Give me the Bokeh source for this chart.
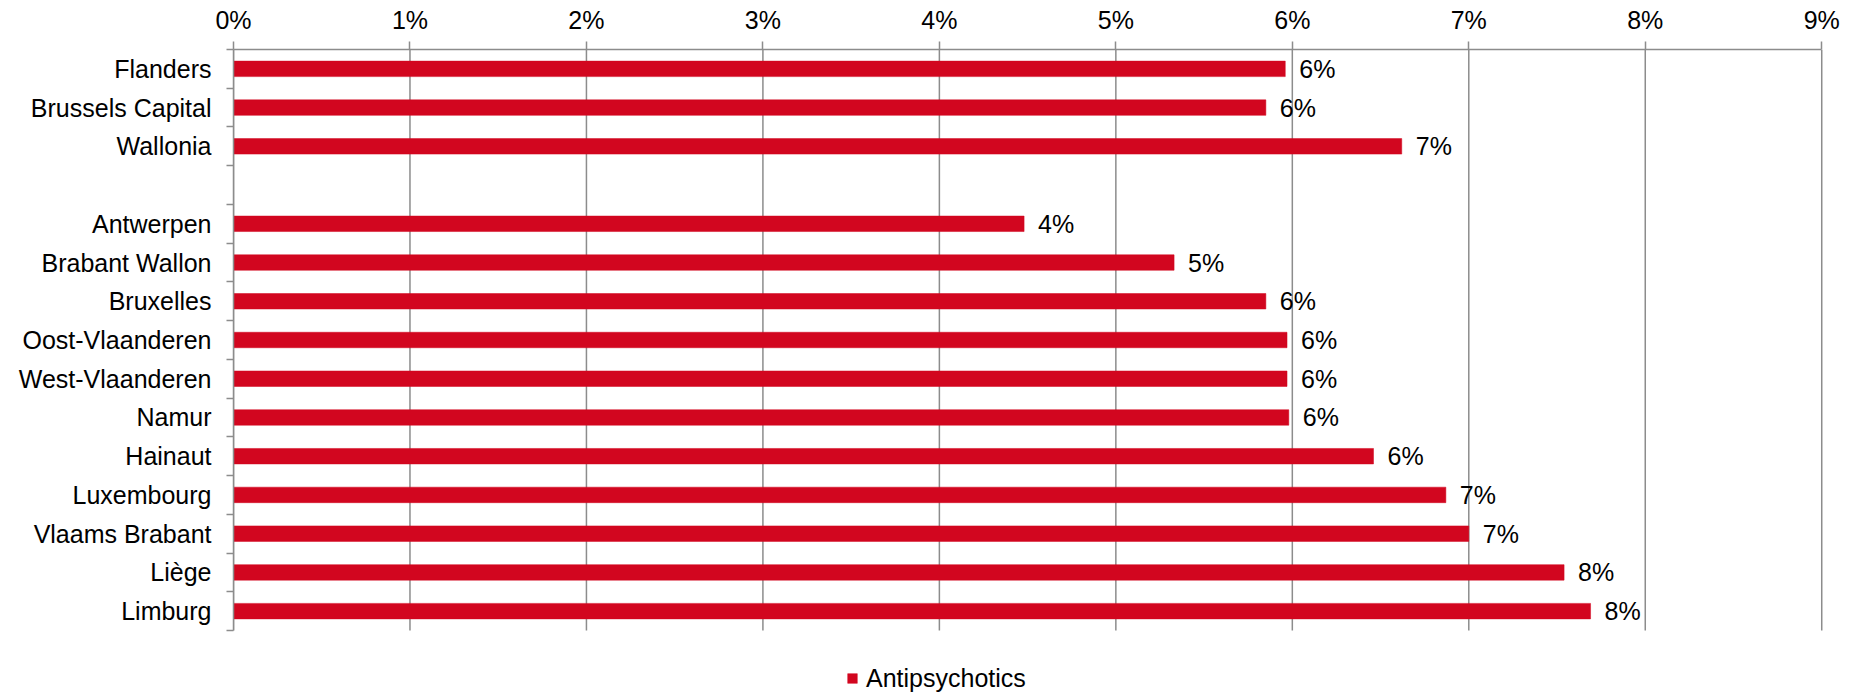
from bokeh.plotting import figure
from bokeh.models import Range1d, FixedTicker, PrintfTickFormatter, Legend, LegendItem, ColumnDataSource
from bokeh.core.properties import value
from bokeh.embed import file_html
from bokeh.resources import INLINE

categories = ["Flanders", "Brussels Capital", "Wallonia", "",
              "Antwerpen", "Brabant Wallon", "Bruxelles", "Oost-Vlaanderen",
              "West-Vlaanderen", "Namur", "Hainaut", "Luxembourg",
              "Vlaams Brabant", "Liège", "Limburg"]
values = [5.96, 5.85, 6.62, None,
          4.48, 5.33, 5.85, 5.97,
          5.97, 5.98, 6.46, 6.87,
          7.00, 7.54, 7.69]
x_ticks = [0, 1, 2, 3, 4, 5, 6, 7, 8, 9]
series_name = "Antipsychotics"

FONT = "Liberation Sans"
RED = "#D2061F"
GRID = "#8C8C8C"

n = len(categories)
ys, xs, labels = [], [], []
for i, v in enumerate(values):
    if v is None:
        continue
    ys.append(i)
    xs.append(v)
    labels.append(f"{round(v)}%")
src = ColumnDataSource(dict(y=ys, x=xs, label=labels))

# frame: top 49px, category slots 38.73px; extra room below for the legend
slot_px = 581 / n
extra = (693 - 49) / slot_px - n
p = figure(width=1861, height=693, output_backend="svg", toolbar_location=None,
           x_axis_location="above",
           x_range=Range1d(0, 9.01), y_range=Range1d(n - 0.5 + extra, -0.5),
           min_border_left=233, min_border_right=38, min_border_top=49, min_border_bottom=0)
p.outline_line_color = None
p.background_fill_color = "white"
p.border_fill_color = "white"

# vertical gridlines at the x ticks, over the category span only
grid_src = ColumnDataSource(dict(x=x_ticks, y0=[-0.5] * len(x_ticks), y1=[n - 0.5] * len(x_ticks)))
p.segment(x0="x", x1="x", y0="y0", y1="y1", source=grid_src, line_color=GRID, line_width=1.5)
p.xgrid.grid_line_color = None
p.ygrid.grid_line_color = None

bars = p.hbar(y="y", right="x", left=0, height=0.4, source=src,
              fill_color=RED, line_color=RED, line_width=0.5)

p.text(x="x", y="y", text="label", source=src, x_offset=14, text_baseline="middle",
       text_align="left", text_font=value(FONT), text_font_size="25px", text_color="black")

# x axis (top)
xa = p.xaxis[0]
xa.ticker = FixedTicker(ticks=x_ticks)
xa.bounds = (x_ticks[0], x_ticks[-1])
xa.formatter = PrintfTickFormatter(format="%d%%")
xa.axis_line_color = GRID
xa.axis_line_width = 1.5
xa.major_tick_line_color = GRID
xa.major_tick_line_width = 1.5
xa.major_tick_out = 8
xa.major_tick_in = 0
xa.minor_tick_line_color = None
xa.major_label_text_font = FONT
xa.major_label_text_font_size = "25px"
xa.major_label_text_color = "black"
xa.major_label_standoff = 8

# y axis (left)
ya = p.yaxis[0]
ya.ticker = FixedTicker(ticks=list(range(n)),
                        minor_ticks=[i - 0.5 for i in range(n + 1)])
ya.bounds = (-0.5, n - 0.5)
ya.major_label_overrides = {i: c for i, c in enumerate(categories)}
ya.axis_line_color = GRID
ya.axis_line_width = 1.5
ya.major_tick_line_color = None
ya.minor_tick_line_color = GRID
ya.minor_tick_line_width = 1.5
ya.minor_tick_out = 7
ya.minor_tick_in = 0
ya.major_label_text_font = FONT
ya.major_label_text_font_size = "25px"
ya.major_label_text_color = "black"
ya.major_label_standoff = 15

legend = Legend(items=[LegendItem(label=series_name, renderers=[bars])],
                location=(613, 0), orientation="horizontal",
                glyph_width=12, glyph_height=12, label_standoff=8, label_height=30,
                padding=0, margin=0, spacing=0,
                border_line_color=None, background_fill_alpha=0,
                label_text_font=FONT, label_text_font_size="25px", label_text_color="black")
p.add_layout(legend, "center")

open("out.html", "w").write(file_html(p, INLINE))
